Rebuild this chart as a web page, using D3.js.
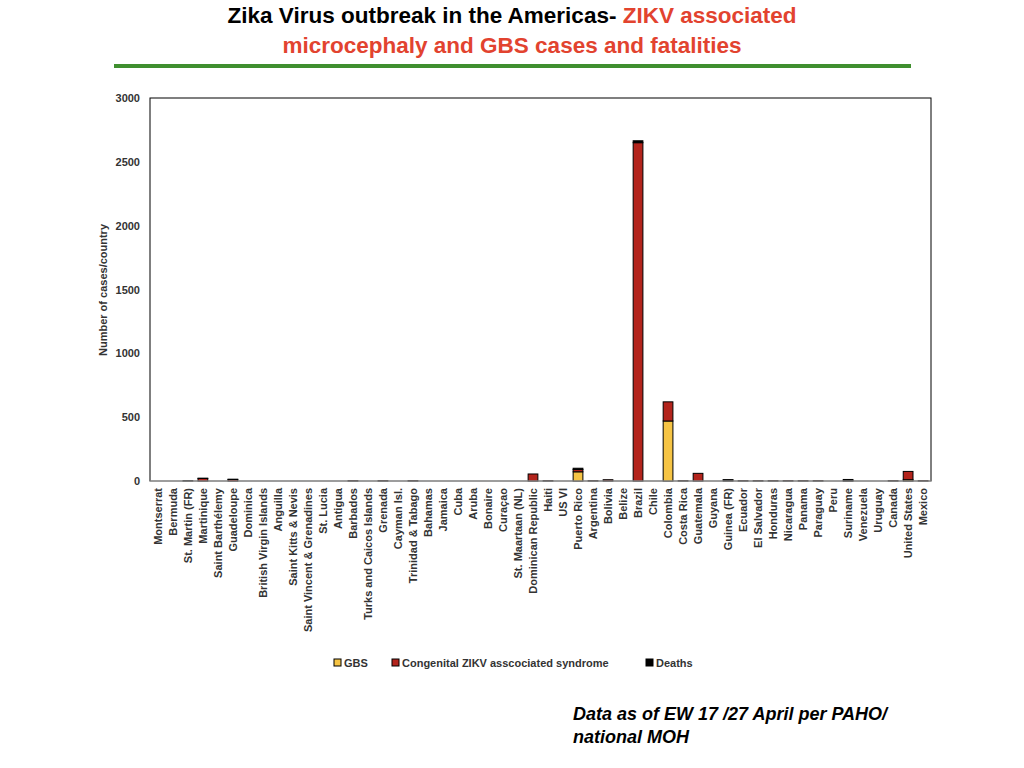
<!DOCTYPE html>
<html>
<head>
<meta charset="utf-8">
<script src="https://d3js.org/d3.v7.min.js"></script>
<style>
  body { margin: 0; background: #fff; font-family: "Liberation Sans", Arial, sans-serif; }
</style>
</head>
<body>
<script>
var countries = ["Montserrat","Bermuda","St. Martin (FR)","Martinique","Saint Barthélemy","Guadeloupe","Dominica","British Virgin Islands","Anguilla","Saint Kitts & Nevis","Saint Vincent & Grenadines","St. Lucia","Antigua","Barbados","Turks and Caicos Islands","Grenada","Cayman Isl.","Trinidad & Tabago","Bahamas","Jamaica","Cuba","Aruba","Bonaire","Curaçao","St. Maartaan (NL)","Dominican Republic","Haiti","US VI","Puerto Rico","Argentina","Bolivia","Belize","Brazil","Chile","Colombia","Costa Rica","Guatemala","Guyana","Guinea (FR)","Ecuador","El Salvador","Honduras","Nicaragua","Panama","Paraguay","Peru","Suriname","Venezuela","Uruguay","Canada","United States","Mexico"];
var gbs =        [0,0,0,0,0,0,0,0,0,0,0,0,0,0,0,0,0,0,0,0,0,0,0,0,0,0,0,0,72,0,0,0,0,0,470,0,0,0,0,0,0,0,0,0,0,0,0,0,0,0,10,0];
var congenital = [0,0,0,20,0,12,0,0,0,0,0,0,0,2,0,2,0,2,0,0,0,0,0,0,0,55,2,0,18,2,10,0,2650,0,150,2,60,0,8,2,2,2,2,2,2,0,2,0,0,2,65,2];
var deaths =     [0,0,2,2,0,2,0,0,0,0,0,0,0,0,0,0,0,0,0,0,0,0,0,0,0,0,0,0,10,0,0,0,15,0,0,0,0,0,2,0,0,0,0,0,0,0,10,0,0,0,0,0];
var series = ["GBS","Congenital ZIKV asscociated syndrome","Deaths"];
var colors = ["#f6c444","#b3241c","#000000"];
var yTicks = [0,500,1000,1500,2000,2500,3000];

var svg = d3.select("body").append("svg").attr("width",1024).attr("height",768);

var title = svg.append("text").attr("text-anchor","middle").attr("font-weight","bold").attr("font-size",22.5);
title.append("tspan").attr("x",512).attr("y",23).attr("fill","#000").text("Zika Virus outbreak in the Americas- ");
title.append("tspan").attr("fill","#e2432f").text("ZIKV associated");
svg.append("text").attr("x",512).attr("y",53).attr("text-anchor","middle").attr("font-weight","bold")
  .attr("font-size",22.5).attr("fill","#e2432f").text("microcephaly and GBS cases and fatalities");
svg.append("rect").attr("x",114).attr("y",64).attr("width",797).attr("height",4).attr("fill","#3f8f2f");

var pLeft = 150, pRight = 931, pTop = 98, pBottom = 481;
var x = d3.scaleBand().domain(countries).range([pLeft,pRight]).paddingInner(0.35).paddingOuter(0.2);
var y = d3.scaleLinear().domain([0,3000]).range([pBottom,pTop]);

svg.append("rect").attr("x",pLeft).attr("y",pTop).attr("width",pRight-pLeft).attr("height",pBottom-pTop)
  .attr("fill","none").attr("stroke","#000").attr("stroke-width",1);

var stackData = countries.map(function(c,i){ return {c:c, GBS:gbs[i], Cong:congenital[i], Deaths:deaths[i]}; });
var stacked = d3.stack().keys(["GBS","Cong","Deaths"])(stackData);
stacked.forEach(function(layer,k){
  svg.append("g").selectAll("rect").data(layer.filter(function(d){return d[1]>d[0];})).join("rect")
    .attr("x",function(d){return x(d.data.c);})
    .attr("width",x.bandwidth())
    .attr("y",function(d){return y(d[1]);})
    .attr("height",function(d){return y(d[0])-y(d[1]);})
    .attr("fill",colors[k])
    .attr("stroke","#000").attr("stroke-width",1);
});

var ya = svg.append("g").attr("transform","translate("+pLeft+",0)")
  .call(d3.axisLeft(y).tickValues(yTicks).tickFormat(d3.format("d")).tickSize(0).tickPadding(10));
ya.select(".domain").remove();
ya.selectAll("text").attr("font-size",11).attr("font-weight","bold").attr("fill","#333").attr("font-family","Liberation Sans, Arial");

svg.append("line").attr("x1",pLeft).attr("x2",pRight).attr("y1",pBottom).attr("y2",pBottom).attr("stroke","#bbb");

var xa = svg.append("g").attr("transform","translate(0,"+pBottom+")").call(d3.axisBottom(x).tickSize(0));
xa.select(".domain").remove();
xa.selectAll("text").attr("font-size",11).attr("font-weight","bold").attr("fill","#333")
  .attr("font-family","Liberation Sans, Arial")
  .attr("text-anchor","end").attr("transform","rotate(-90)").attr("x",-7).attr("y",0).attr("dy","0.35em");

svg.append("text").attr("transform","translate(107,290) rotate(-90)").attr("text-anchor","middle")
  .attr("font-size",11).attr("font-weight","bold").attr("fill","#333").text("Number of cases/country");

var lx = [334,392,646];
series.forEach(function(s,i){
  svg.append("rect").attr("x",lx[i]).attr("y",659).attr("width",7).attr("height",7).attr("fill",colors[i]).attr("stroke","#000");
  svg.append("text").attr("x",lx[i]+10).attr("y",667).attr("font-size",11).attr("font-weight","bold").attr("fill","#333").text(s);
});

svg.append("text").attr("x",573).attr("y",720).attr("font-size",18).attr("font-weight","bold").attr("font-style","italic").text("Data as of EW 17 /27 April per PAHO/");
svg.append("text").attr("x",573).attr("y",743).attr("font-size",18).attr("font-weight","bold").attr("font-style","italic").text("national MOH");
</script>
</body>
</html>
